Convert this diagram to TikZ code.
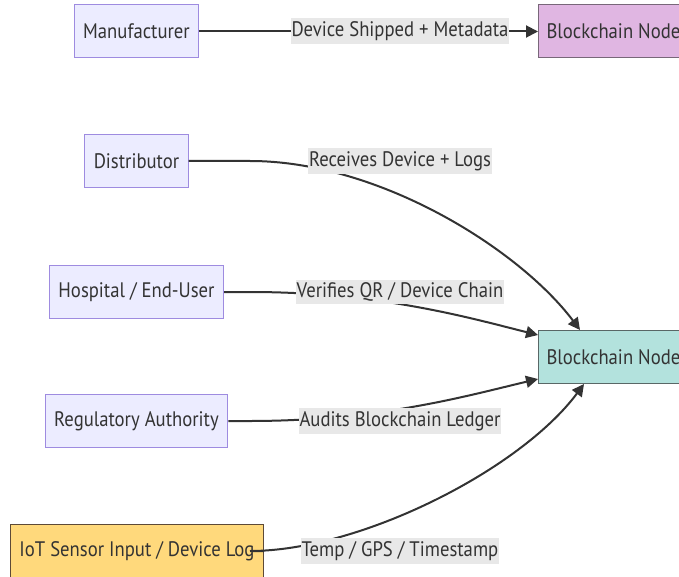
\documentclass[tikz,border=0pt]{standalone}
\usepackage{fontspec}
\setmainfont{PT Sans}[FakeStretch=0.89]
\usetikzlibrary{arrows.meta}
\usetikzlibrary{positioning}
\definecolor{txt}{HTML}{333333}
\definecolor{lilac}{HTML}{ECECFF}
\definecolor{lilacline}{HTML}{9E8BE0}
\definecolor{plum}{HTML}{E0B6E2}
\definecolor{teal}{HTML}{B3E2DD}
\definecolor{sand}{HTML}{FFD97C}
\definecolor{lblbg}{HTML}{E8E8E8}
\tikzstyle{actor}=[rectangle,draw=lilacline,fill=lilac,line width=1pt,minimum height=53pt,inner xsep=9pt,text=txt,font=\fontsize{21}{24}\selectfont]
\tikzstyle{chain}=[rectangle,draw=txt!80,line width=1pt,minimum height=53pt,inner xsep=8pt,text=txt,font=\fontsize{21}{24}\selectfont,anchor=west]
\tikzstyle{flow} = [draw=txt,line width=2pt,-{Triangle[length=12pt,width=12pt]}]
\tikzstyle{weight} = [fill=lblbg,inner xsep=1pt,inner ysep=3pt,text=txt,font=\fontsize{21}{24}\selectfont]

\begin{document}
\begin{tikzpicture}[x=1pt,y=-1pt]
  \useasboundingbox (0,0) rectangle (679,577);
  \clip (0,0) rectangle (679,577);

    \foreach \pos/\name/\txt in {{(136.5,31.5)/maker/Manufacturer}, {(136.5,161)/dist/Distributor}, {(136.5,292)/hosp/{Hospital / End-User}}, {(136.5,421)/reg/Regulatory Authority}}
        \node[actor] (\name) at \pos {\txt};

    \node[actor, draw=txt!70!brown, fill=sand, anchor=west] (iot) at (10,551) {IoT Sensor Input / Device Log};
    \node[chain, fill=plum, draw=txt!60!plum] (bca) at (538,31.5) {Blockchain Node};
    \node[chain, fill=teal, draw=txt!70!teal] (bcb) at (538,357) {Blockchain Node};

    % edges run through the label spots
    \foreach \name/\y in {m/31, d/161, h/292, r/421, t/551}
        \coordinate (\name lbl) at (400,\y);

    \path[flow] (maker) -- (bca);
    \path[flow] (dist) -- (250,161) .. controls (380,161) and (520,250) .. ([xshift=42pt]bcb.north west);
    \path[flow] (hosp) -- (250,292) .. controls (380,292) and (470,318) .. ([yshift=-5pt]bcb.north west);
    \path[flow] (reg) -- (250,421) .. controls (380,421) and (470,395) .. ([yshift=5pt]bcb.south west);
    \path[flow] (iot) -- (250,551) .. controls (360,551) and (520,470) .. ([xshift=46pt]bcb.south west);

    \foreach \name/\txt in {m/{Device Shipped + Metadata}, d/{Receives Device + Logs}, h/{Verifies QR / Device Chain}, r/{Audits Blockchain Ledger}, t/{Temp / GPS / Timestamp}}
        \node[weight] at (\name lbl) {\txt};

\end{tikzpicture}
\end{document}
